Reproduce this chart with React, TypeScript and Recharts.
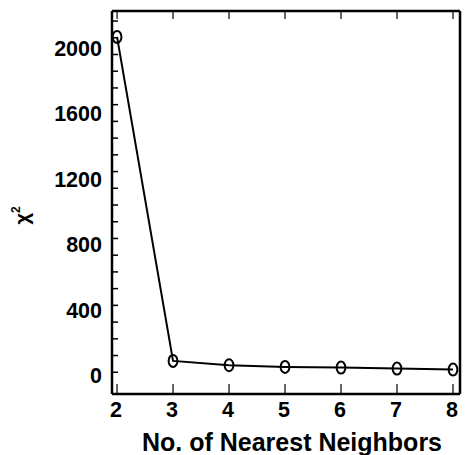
import { LineChart, Line, XAxis, YAxis } from 'recharts'

const neighbors = [2, 3, 4, 5, 6, 7, 8]
const chiSquared = [2005, 68, 42, 32, 28, 22, 16]
const xTicks = [2, 3, 4, 5, 6, 7, 8]
const yTicks = [0, 100, 200, 300, 400, 500, 600, 700, 800, 900, 1000, 1100, 1200, 1300, 1400, 1500, 1600, 1700, 1800, 1900, 2000, 2100]
const yLabelStep = 400

const FONT = '"Liberation Sans", Arial, Helvetica, sans-serif'

const data = neighbors.map((n, i) => ({ n, chi: chiSquared[i] }))

function LeftTick({ x, y, payload }: any) {
  const showLabel = payload.value % yLabelStep === 0
  // labels in the original sit a little lower the higher they go
  const shift = 3 + payload.value * 0.0035
  return (
    <g>
      <line x1={x} y1={y} x2={x + 6} y2={y} stroke="#000" strokeWidth={1.5} />
      {showLabel && (
        <text x={x - 10} y={y + shift + 7.8} textAnchor="end" fontFamily={FONT} fontWeight="bold" fontSize={21.5} fill="#000">
          {payload.value}
        </text>
      )}
    </g>
  )
}

function RightTick({ x, y }: any) {
  return <line x1={x} y1={y} x2={x - 5} y2={y} stroke="#000" strokeWidth={1.5} />
}

function BottomTick({ x, y, payload }: any) {
  return (
    <g>
      <line x1={x} y1={y} x2={x} y2={y - 10} stroke="#000" strokeWidth={1.2} />
      <text x={x - 1} y={y + 23} textAnchor="middle" fontFamily={FONT} fontWeight="bold" fontSize={21.5} fill="#000">
        {payload.value}
      </text>
    </g>
  )
}

function TopTick({ x, y }: any) {
  return <line x1={x} y1={y} x2={x} y2={y + 8} stroke="#000" strokeWidth={1.2} />
}

function ChiLabel({ viewBox }: any) {
  const cx = viewBox.x + 29
  const cy = viewBox.y + viewBox.height / 2 + 22
  return (
    <text x={cx} y={cy} transform={`rotate(-90, ${cx}, ${cy})`} textAnchor="start" fontFamily={FONT} fontWeight="bold" fontSize={20} fill="#000">
      χ
      <tspan dy={-9} fontSize={12}>2</tspan>
    </text>
  )
}

function XLabel({ viewBox }: any) {
  return (
    <text x={viewBox.x + viewBox.width / 2 + 6} y={viewBox.y + 57} textAnchor="middle" fontFamily={FONT} fontWeight="bold" fontSize={25} fill="#000">
      No. of Nearest Neighbors
    </text>
  )
}

function RingDot({ cx, cy }: any) {
  return <ellipse cx={cx} cy={cy} rx={4.4} ry={6} stroke="#000" strokeWidth={2} fill="none" />
}

export default function App() {
  return (
    <div style={{ position: 'absolute', left: 0, top: 0, width: 466, height: 455, background: '#fff' }}>
      <LineChart width={466} height={455} data={data} margin={{ top: 10, right: 5, bottom: 0, left: 0 }}>
        <XAxis
          xAxisId="bottom"
          dataKey="n"
          type="number"
          domain={[1.91, 8.125]}
          ticks={xTicks}
          interval={0}
          orientation="bottom"
          height={61}
          tickSize={0}
          tickMargin={0}
          tickLine={false}
          axisLine={{ stroke: '#000', strokeWidth: 2.5 }}
          tick={<BottomTick />}
          label={{ content: <XLabel /> }}
        />
        <XAxis
          xAxisId="top"
          dataKey="n"
          type="number"
          domain={[1.91, 8.125]}
          ticks={xTicks}
          interval={0}
          orientation="top"
          height={1}
          tickSize={0}
          tickMargin={0}
          tickLine={false}
          axisLine={{ stroke: '#000', strokeWidth: 2.5 }}
          tick={<TopTick />}
        />
        <YAxis
          yAxisId="left"
          type="number"
          domain={[-130, 2160]}
          ticks={yTicks}
          interval={0}
          orientation="left"
          width={112}
          tickSize={0}
          tickMargin={0}
          tickLine={false}
          axisLine={{ stroke: '#000', strokeWidth: 2.5 }}
          tick={<LeftTick />}
          label={{ content: <ChiLabel /> }}
        />
        <YAxis
          yAxisId="right"
          type="number"
          domain={[-130, 2160]}
          ticks={yTicks}
          interval={0}
          orientation="right"
          width={1}
          tickSize={0}
          tickMargin={0}
          tickLine={false}
          axisLine={{ stroke: '#000', strokeWidth: 2.5 }}
          tick={<RightTick />}
        />
        <Line
          xAxisId="bottom"
          yAxisId="left"
          dataKey="chi"
          type="linear"
          stroke="#000"
          strokeWidth={2}
          dot={<RingDot />}
          isAnimationActive={false}
        />
      </LineChart>
    </div>
  )
}
